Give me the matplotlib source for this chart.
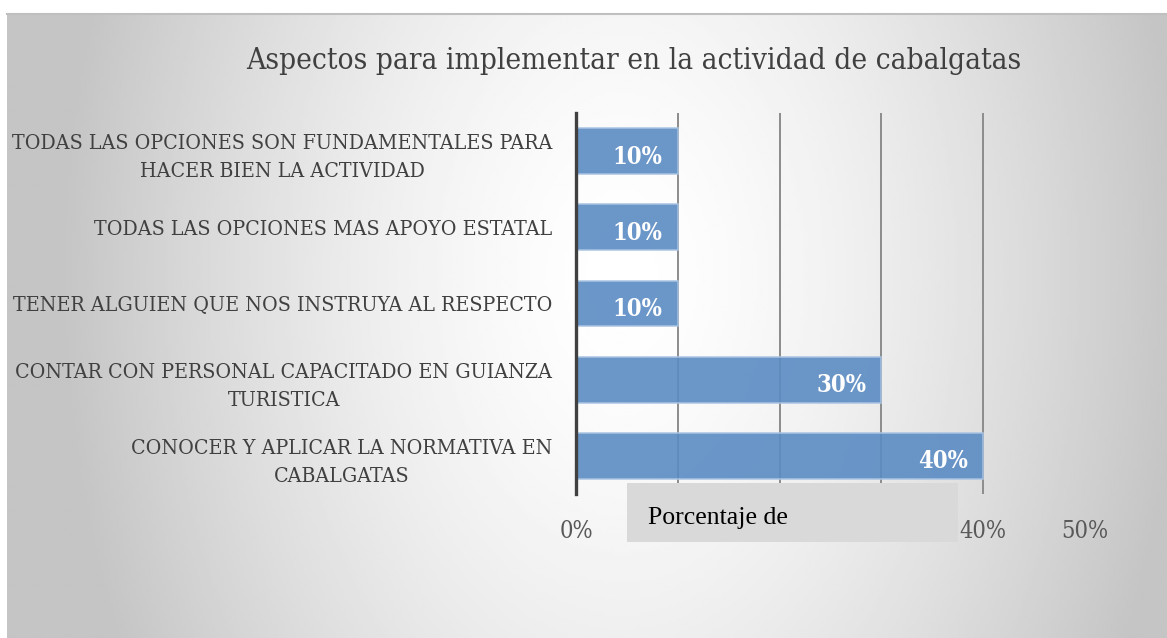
import numpy as np
import matplotlib
matplotlib.use("Agg")
import matplotlib.pyplot as plt
from matplotlib.patches import Rectangle

# ---- data ----
categories = [
    "CONOCER Y APLICAR LA NORMATIVA EN\nCABALGATAS",
    "CONTAR CON PERSONAL CAPACITADO EN GUIANZA\nTURISTICA",
    "TENER ALGUIEN QUE NOS INSTRUYA AL RESPECTO",
    "TODAS LAS OPCIONES MAS APOYO ESTATAL",
    "TODAS LAS OPCIONES SON FUNDAMENTALES PARA\nHACER BIEN LA ACTIVIDAD",
]
values = [0.40, 0.30, 0.10, 0.10, 0.10]
value_labels = ["40%", "30%", "10%", "10%", "10%"]
x_ticks = [0.0, 0.1, 0.2, 0.3, 0.4, 0.5]
# 10%-30% labels are hidden behind the axis-title box in the reference
x_ticklabels = ["0%", "", "", "", "40%", "50%"]
title = "Aspectos para implementar en la actividad de cabalgatas"
axis_title = "Porcentaje de"

W, H = 1167, 638
fig = plt.figure(figsize=(W / 100, H / 100), dpi=100)
fig.patch.set_facecolor("white")

def frac(x0, y0, x1, y1):
    return [x0 / W, 1 - y1 / H, (x1 - x0) / W, (y1 - y0) / H]

# background gradient frame
bg = fig.add_axes(frac(7, 13, W, H), zorder=0)
yy, xx = np.mgrid[0:200, 0:400]
cx, cy = 0.53, 0.42
d = np.sqrt(((xx / 399 - cx) / 0.5) ** 2 + ((yy / 199 - cy) / 1.4) ** 2)
g = np.clip(1 - 0.24 * d ** 1.5, 0.77, 1.0)
bg.imshow(g, cmap="gray", vmin=0, vmax=1, aspect="auto", extent=[0, 1, 0, 1])
bg.set_axis_off()
fig.add_artist(plt.Line2D([7 / W, 1], [1 - 13.5 / H, 1 - 13.5 / H], color="#bfbfbf", lw=1.5))

serif = ["DejaVu Serif", "Liberation Serif"]
cond = "condensed"

ax = fig.add_axes(frac(576, 113, 1085, 494), zorder=1)
ax.patch.set_alpha(0)
y = np.arange(len(categories))
bars = ax.barh(y, values, height=0.6, color="#5b8bc3", alpha=0.9,
               edgecolor="#a9c4e2", linewidth=1.2, zorder=3)
ax.set_xlim(0, 0.5)
ax.set_ylim(-0.5, len(categories) - 0.5)
ax.set_yticks(y)
ax.set_yticklabels(categories, fontfamily=serif, fontstretch=cond, fontsize=15.3, color="#404040",
                   multialignment="center", linespacing=1.6)
ax.set_xticks(x_ticks)
ax.set_xticklabels(x_ticklabels, fontfamily=serif, fontstretch=cond, fontsize=17, color="#595959")
ax.tick_params(axis="both", length=0)
ax.tick_params(axis="x", pad=19)
ax.tick_params(axis="y", pad=17)
for s in ["top", "right", "bottom"]:
    ax.spines[s].set_visible(False)
ax.spines["left"].set_color("#404040")
ax.spines["left"].set_linewidth(2.4)
ax.spines["left"].set_zorder(5)
ax.xaxis.grid(True, color="#8c8c8c", linewidth=1.4, zorder=2)
ax.set_axisbelow(True)
gl = ax.get_xgridlines()
gl[0].set_visible(False)
gl[-1].set_visible(False)

for b, lab in zip(bars, value_labels):
    ax.annotate(lab, (b.get_width(), b.get_y() + b.get_height() / 2),
                xytext=(-11, -4), textcoords="offset points", ha="right", va="center",
                fontfamily=serif, fontstretch=cond, fontsize=17, fontweight="bold",
                color="white", zorder=6)

fig.text(634 / W, 1 - 61 / H, title, ha="center", va="center",
         fontfamily=serif, fontstretch=cond, fontsize=21.3, color="#404040")

# axis title box
fig.add_artist(Rectangle((627 / W, 1 - 542 / H), (958 - 627) / W, (542 - 483) / H,
                         transform=fig.transFigure, facecolor="#d9d9d9",
                         edgecolor="none", zorder=10))
fig.text(648 / W, 1 - 518 / H, axis_title, ha="left", va="center",
         fontfamily=["Liberation Serif"], fontsize=18.5, color="black", zorder=11)

fig.savefig("out.png", dpi=100)
